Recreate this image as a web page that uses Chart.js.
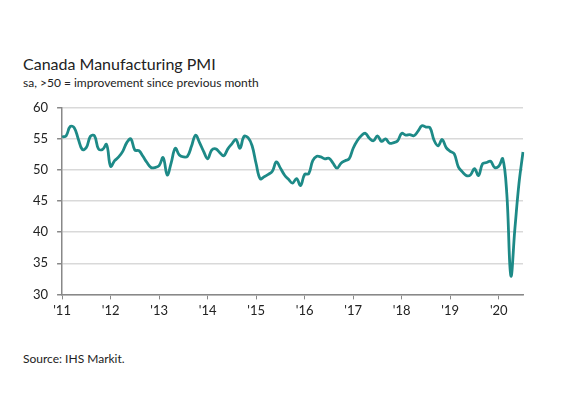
<!DOCTYPE html>
<html>
<head>
<meta charset="utf-8">
<script src="https://cdn.jsdelivr.net/npm/chart.js@4"></script>
<style>
  html, body { margin: 0; padding: 0; background: #fff; }
  body { width: 576px; height: 393px; position: relative; overflow: hidden; font-family: Lato, "Open Sans", sans-serif; color: #222; }
  #title { position: absolute; left: 23px; top: 54px; font-size: 16px; }
  #subtitle { position: absolute; left: 23px; top: 75px; font-size: 12px; }
  #source { position: absolute; left: 23px; top: 351px; font-size: 12px; }
  #box { position: absolute; left: 0; top: 91px; width: 527px; height: 232px; }
</style>
</head>
<body>
<div id="title">Canada Manufacturing PMI</div>
<div id="subtitle">sa, &gt;50 = improvement since previous month</div>
<div id="box"><canvas id="pmiChart"></canvas></div>
<div id="source">Source: IHS Markit.</div>
<script>
// monthly PMI, Jan 2011 .. Jul 2020
const startYear = 2011;
const pmi2011 = [55.3, 55.5, 57.0, 56.8, 55.0, 53.3, 53.6, 55.4, 55.5, 53.4, 53.3, 54.1];
const pmi2012 = [50.6, 51.5, 52.1, 53.0, 54.4, 55.0, 53.2, 53.1, 52.2, 51.2, 50.4, 50.4];
const pmi2013 = [50.7, 52.0, 49.2, 51.2, 53.5, 52.4, 52.1, 52.2, 53.8, 55.6, 54.4, 53.0];
const pmi2014 = [51.8, 53.2, 53.4, 52.8, 52.3, 53.4, 54.2, 54.9, 53.5, 55.4, 55.2, 53.9];
const pmi2015 = [51.0, 48.6, 48.9, 49.3, 49.8, 51.3, 50.3, 49.2, 48.5, 47.9, 48.6, 47.5];
const pmi2016 = [49.3, 49.4, 51.5, 52.2, 52.1, 51.8, 51.9, 51.1, 50.3, 51.1, 51.5, 51.8];
const pmi2017 = [53.5, 54.7, 55.5, 55.9, 55.1, 54.7, 55.5, 54.6, 55.0, 54.3, 54.4, 54.7];
const pmi2018 = [55.9, 55.6, 55.7, 55.5, 56.2, 57.1, 56.9, 56.8, 54.8, 53.9, 54.9, 53.6];
const pmi2019 = [53.0, 52.6, 50.5, 49.7, 49.1, 49.2, 50.2, 49.1, 51.0, 51.2, 51.4, 50.4];
const pmi2020 = [50.6, 51.8, 46.1, 33.0, 40.6, 47.8, 52.9];

const pmi = [].concat(pmi2011, pmi2012, pmi2013, pmi2014, pmi2015,
  pmi2016, pmi2017, pmi2018, pmi2019, pmi2020);
const months = pmi.map((v, i) => (startYear + Math.floor(i / 12)) + "-" + (i % 12 + 1));
const yTicks = [30, 35, 40, 45, 50, 55, 60];

const ctx = document.getElementById("pmiChart").getContext("2d");
new Chart(ctx, {
  type: "line",
  data: {
    labels: months,
    datasets: [{
      data: pmi,
      borderColor: "#1d8a87",
      borderWidth: 2.8,
      pointRadius: 0,
      tension: 0.4,
      fill: false,
    }],
  },
  options: {
    responsive: true,
    maintainAspectRatio: false,
    animation: false,
    layout: { padding: { left: 24, right: 0, top: 6, bottom: 0 } },
    plugins: { legend: { display: false }, tooltip: { enabled: false } },
    scales: {
      x: {
        type: "category",
        offset: false,
        grid: {
          drawOnChartArea: false,
          drawTicks: true,
          tickLength: 5,
          tickColor: (c) => (c.index % 12 === 0 ? "#888" : "rgba(0,0,0,0)"),
        },
        border: { color: "#888", width: 1.5 },
        ticks: {
          autoSkip: false,
          maxRotation: 0,
          padding: 4,
          color: "#222",
          font: { family: "Lato", size: 13 },
          callback: (v, i) => (i % 12 === 0 ? "'" + String(startYear + i / 12).slice(2) : ""),
        },
      },
      y: {
        min: yTicks[0],
        max: yTicks[yTicks.length - 1],
        afterBuildTicks: (s) => { s.ticks = yTicks.map((v) => ({ value: v })); },
        grid: {
          color: "#d9d9d9",
          lineWidth: 1.5,
          tickLength: 5,
          tickColor: "#888",
        },
        border: { color: "#888", width: 1.5 },
        ticks: {
          padding: 9,
          color: "#222",
          font: { family: "Lato", size: 13 },
        },
      },
    },
  },
});
</script>
</body>
</html>
